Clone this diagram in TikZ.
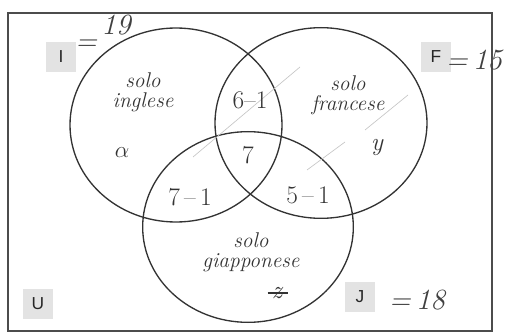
\documentclass[tikz,border=0pt]{standalone}
\usepackage{fontspec}
\setsansfont{Liberation Sans}
\begin{document}
\begin{tikzpicture}[x=0.75pt,y=-0.75pt,
    setbox/.style={fill=gray!22,minimum size=23pt,inner sep=0pt,text=black!85,
      font=\sffamily\fontsize{13}{13}\selectfont},
    hand/.style={text=black!80,align=center,font=\itshape\fontsize{16}{15}\selectfont},
    count/.style={text=black!80,font=\fontsize{19}{19}\selectfont},
    total/.style={text=black!75,inner sep=1pt,font=\itshape\fontsize{22}{22}\selectfont},
    pencil/.style={gray!45,line width=0.5pt}]
  \useasboundingbox (0,0) rectangle (508,335);
  \draw[black!70,line width=0.8pt] (8,13) rectangle (492,331);
  % the three sets
  \draw[black!80,line width=1pt] (176,125) ellipse [x radius=79.5pt,y radius=72.75pt];
  \draw[black!80,line width=1pt] (321,123) ellipse [x radius=79.5pt,y radius=71.5pt];
  \draw[black!80,line width=1pt] (248,227) ellipse [x radius=79pt,y radius=71.5pt];
  % pencil strokes
  \draw[pencil] (193,157) -- (300,67);
  \draw[pencil] (307,170) -- (345,142);
  \draw[pencil] (365,130) -- (408,95);
  % set names and sizes
  \node[setbox] (lblI) at (61,57) {I};
  \node[setbox] (lblF) at (436,57) {F};
  \node[setbox] (lblU) at (38,304) {U};
  \node[setbox] (lblJ) at (360,297) {J};
  \node[total] (eqI) at (86,45) {=};
  \node[total] (totI) at (116,25) {19};
  \node[total] (totF) at (474,60) {=\,15};
  \node[total] (totJ) at (417,300) {=\,18};
  % regions
  \node[hand] (soloI) at (143,92) {solo\\inglese};
  \node[hand] (soloF) at (348,95) {solo\\francese};
  \node[hand] (soloJ) at (251,252) {solo\\giapponese};
  \node[count] (alpha) at (122,153) {$\alpha$};
  \node[count] (yreg) at (377,147) {\itshape y};
  \node[count] (zreg) at (277,293) {\itshape z};
  \draw[black!80,line width=0.8pt] ([xshift=-7pt]zreg.center) -- ([xshift=8pt]zreg.center);
  \node[count] (nIF) at (250,100) {6–1};
  \node[count] (nIFJ) at (248,155) {7};
  \node[count] (nIJ) at (190,197) {7\,–\,1};
  \node[count] (nFJ) at (308,195) {5\,–\,1};
\end{tikzpicture}
\end{document}
